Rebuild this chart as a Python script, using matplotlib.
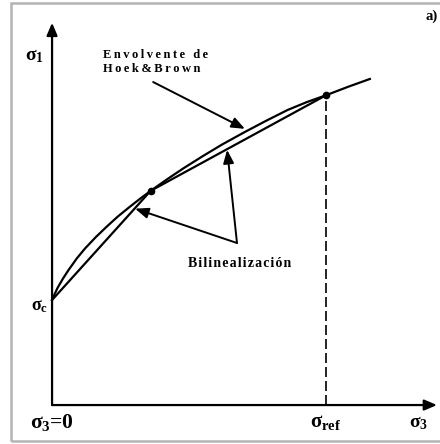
import numpy as np
import matplotlib
matplotlib.use("Agg")
import matplotlib.pyplot as plt
from matplotlib.patches import Rectangle

plt.rcParams['mathtext.fontset'] = 'custom'
plt.rcParams['mathtext.rm'] = 'Liberation Serif:bold'
plt.rcParams['mathtext.it'] = 'Liberation Serif:bold'
plt.rcParams['mathtext.bf'] = 'Liberation Serif:bold'

SERIF = ['Liberation Serif', 'DejaVu Serif']

# Hoek & Brown envelope (sigma_3 normalised by sigma_ref, sigma_1 by sigma_c)
sig3_hb = [0.0, 0.01, 0.02, 0.04, 0.06, 0.09, 0.12, 0.16, 0.20, 0.24, 0.28,
           0.32, 0.36, 0.42, 0.48, 0.55, 0.62, 0.70, 0.78, 0.86, 0.93, 1.00,
           1.08, 1.16]
sig1_hb = [1.0, 1.06, 1.115, 1.205, 1.285, 1.395, 1.49, 1.60, 1.70, 1.795,
           1.88, 1.962, 2.04, 2.15, 2.255, 2.37, 2.48, 2.595, 2.705, 2.81,
           2.885, 2.95, 3.03, 3.105]

# bilinear approximation: sigma_c -> knee -> sigma_ref
sig3_bl = [0.0, 0.36, 1.0]
sig1_bl = [1.0, 2.04, 2.95]

sig_ref = 1.0


def spaced(s, sep='\u200a'):
    """Letter-spaced string for the annotation labels."""
    return sep.join(s)


fig = plt.figure(figsize=(4.40, 4.44), dpi=100)
ax = fig.add_axes([0, 0, 1, 1])
ax.set_xlim(-0.19, 1.416)
ax.set_ylim(-0.371, 3.857)
ax.axis('off')

# grey frame around the sketch
fig.patches.append(Rectangle((11 / 440, 3 / 444), 1.0, 438 / 444,
                             transform=fig.transFigure, fill=False,
                             edgecolor='#b4b4b4', linewidth=1.8))

# axes with arrows
axis_arrow = dict(arrowstyle='-|>,head_length=0.75,head_width=0.32',
                  color='black', lw=1.6, shrinkA=0, shrinkB=0)
ax.annotate('', xy=(1.405, 0), xytext=(0, 0), arrowprops=axis_arrow)
ax.annotate('', xy=(0, 3.64), xytext=(0, 0), arrowprops=axis_arrow)

# envelope and bilinearisation
ax.plot(sig3_hb, sig1_hb, color='black', lw=1.6, solid_joinstyle='round')
ax.plot(sig3_bl, sig1_bl, color='black', lw=1.6)
ax.plot(sig3_bl[1:], sig1_bl[1:], 'o', color='black', ms=4.5)

# sigma_ref
ax.plot([sig_ref, sig_ref], [0, sig1_bl[2]], color='black', lw=1.2,
        linestyle=(0, (6, 2.4)))

# labels
ax.text(-0.066, 3.333, r'$σ_1$', fontsize=14, ha='center', va='center')
ax.text(-0.047, 0.94, r'$σ_c$', fontsize=13, ha='center', va='center')
ax.text(0.0, -0.165, r'$σ_3$=0', fontsize=15.5, ha='center', va='center',
        family=SERIF, weight='bold')
ax.text(sig_ref, -0.165, r'$σ_{ref}$', fontsize=15, ha='center', va='center')
ax.text(1.336, -0.165, r'$σ_3$', fontsize=14, ha='center', va='center')
ax.text(1.385, 3.70, 'a)', fontsize=10.5, ha='center', va='center',
        family=SERIF, weight='bold')

ax.text(0.186, 3.267,
        spaced('Envolvente de', '\u2009') + '\n' + spaced('Hoek&Brown', '\u2009'),
        fontsize=9, ha='left', va='center', family=SERIF, weight='bold',
        linespacing=1.15)
ax.text(0.686, 1.352, spaced('Bilinealización'), fontsize=10,
        ha='center', va='center', family=SERIF, weight='bold')

arrow = dict(arrowstyle='-|>,head_length=0.8,head_width=0.32', color='black',
             lw=1.4, shrinkA=0, shrinkB=0)
ax.annotate('', xy=(0.704, 2.63), xytext=(0.369, 3.076), arrowprops=arrow)
ax.annotate('', xy=(0.303, 1.87), xytext=(0.675, 1.543), arrowprops=arrow)
ax.annotate('', xy=(0.639, 2.43), xytext=(0.675, 1.543), arrowprops=arrow)

fig.savefig('out.png', dpi=100)
